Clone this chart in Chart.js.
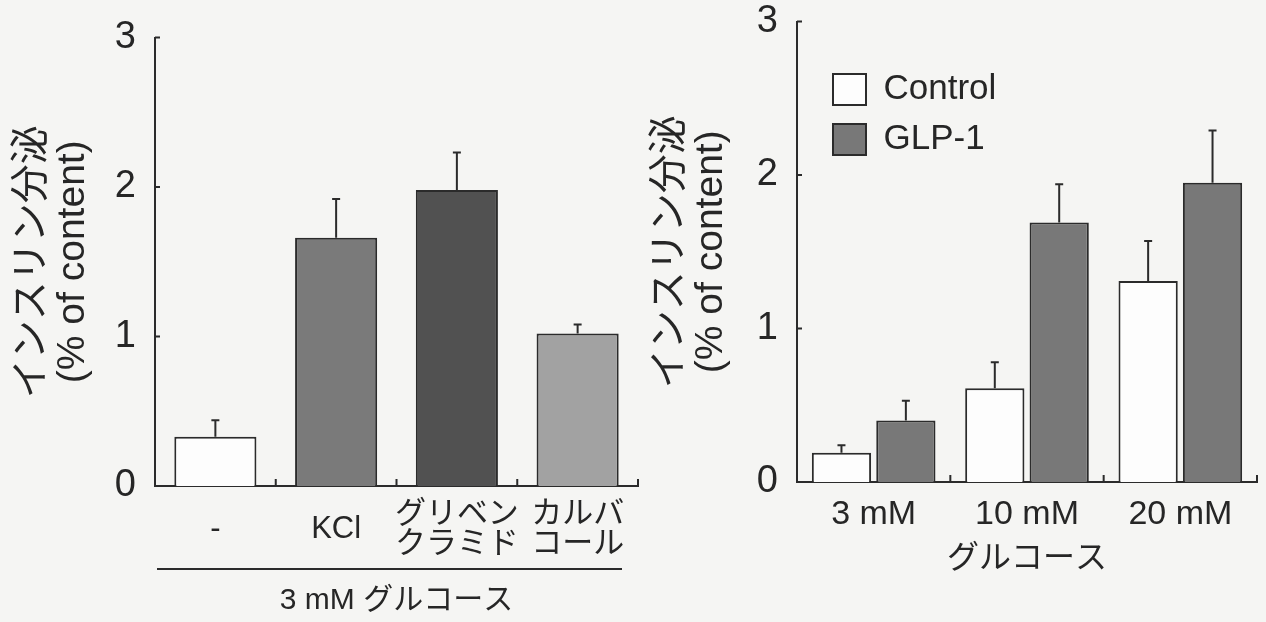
<!DOCTYPE html>
<html lang="ja">
<head>
<meta charset="UTF-8">
<title>インスリン分泌</title>
<script src="https://cdn.jsdelivr.net/npm/chart.js"></script>
<style>
  html, body { margin: 0; padding: 0; background: #f5f5f3; overflow: hidden; }
  .wrap { display: flex; width: 1266px; height: 622px; }
  canvas { display: block; }
</style>
</head>
<body>
<div class="wrap">
  <canvas id="leftChart" width="640" height="622"></canvas>
  <canvas id="rightChart" width="626" height="622"></canvas>
</div>
<script>
// left panel: stimuli at 3 mM glucose
const stimLabels = ['-', 'KCl', ['グリベン', 'クラミド'], ['カルバ', 'コール']];
const stimValues = [0.33, 1.66, 1.98, 1.02];
const stimErrors = [0.11, 0.26, 0.25, 0.06];

// right panel: glucose concentration, control vs GLP-1
const glucoseLabels = ['3 mM', '10 mM', '20 mM'];
const controlValues = [0.19, 0.61, 1.31];
const controlErrors = [0.05, 0.17, 0.26];
const glpValues = [0.40, 1.69, 1.95];
const glpErrors = [0.13, 0.25, 0.34];

const FONT = "'Liberation Sans', Arial, 'Noto Sans CJK JP', sans-serif";
const INK = '#2b2b2b';
const TEXT = '#262626';
Chart.defaults.font.family = FONT;
Chart.defaults.color = TEXT;

// error bars (upper only) + inward axis ticks + optional bracket line under labels
const marks = {
  id: 'marks',
  afterDatasetsDraw(chart, args, opts) {
    const ctx = chart.ctx;
    const x = chart.scales.x, y = chart.scales.y;
    ctx.save();
    ctx.strokeStyle = INK;
    ctx.lineWidth = 2;
    ctx.beginPath();
    chart.data.datasets.forEach((ds, di) => {
      chart.getDatasetMeta(di).data.forEach((bar, i) => {
        const top = y.getPixelForValue(ds.data[i] + ds.err[i]);
        ctx.moveTo(bar.x, bar.y);
        ctx.lineTo(bar.x, top);
        ctx.moveTo(bar.x - 4, top);
        ctx.lineTo(bar.x + 4, top);
      });
    });
    // y ticks pointing into the plot
    y.ticks.forEach(t => {
      const py = y.getPixelForValue(t.value);
      ctx.moveTo(x.left, py);
      ctx.lineTo(x.left + 5, py);
    });
    // x ticks at category boundaries, pointing up
    const n = x.ticks.length;
    for (let i = 1; i <= n; i++) {
      const px = i < n ? (x.getPixelForValue(i - 1) + x.getPixelForValue(i)) / 2 : x.right;
      ctx.moveTo(px, y.bottom);
      ctx.lineTo(px, y.bottom - 7);
    }
    if (opts.bracket) {
      const by = x.bottom - 53;
      ctx.moveTo(x.left + 2, by);
      ctx.lineTo(x.right - 16, by);
    }
    ctx.stroke();
    ctx.restore();
  }
};

// put the legend inside the plot, near the top-left
const legendShift = {
  id: 'legendShift',
  afterLayout(chart, args, opts) {
    if (chart.legend && opts.dx !== undefined) {
      chart.legend.left = chart.chartArea.left + opts.dx;
      chart.legend.top = chart.chartArea.top + opts.dy;
    }
  }
};

function yAxis(width, titlePad) {
  return {
    min: 0, max: 3,
    afterFit: s => { s.width = width; },
    grid: { display: false, drawTicks: true, tickLength: 19 },
    border: { display: true, color: INK, width: 2 },
    ticks: { stepSize: 1, padding: 0, color: TEXT, font: { size: 38, lineHeight: 1.0 } },
    title: {
      display: true,
      text: ['インスリン分泌', '(% of content)'],
      color: TEXT,
      font: { size: 39, lineHeight: 1.05 },
      padding: { top: titlePad, bottom: 0 }
    }
  };
}

new Chart(document.getElementById('leftChart'), {
  type: 'bar',
  data: {
    labels: stimLabels,
    datasets: [{
      data: stimValues,
      err: stimErrors,
      backgroundColor: ['#fdfdfd', '#7a7a7a', '#515151', '#a2a2a2'],
      borderColor: INK,
      borderWidth: 2,
      categoryPercentage: 0.68,
      barPercentage: 1.0
    }]
  },
  options: {
    responsive: false,
    animation: false,
    layout: { padding: { top: 37.5, right: 2, bottom: 0, left: 0 } },
    plugins: { legend: { display: false }, tooltip: { enabled: false }, marks: { bracket: true } },
    scales: {
      x: {
        afterFit: s => { s.height = 136; },
        grid: { display: false, drawTicks: true, tickLength: 28 },
        border: { display: true, color: INK, width: 2 },
        ticks: { autoSkip: false, padding: 0, crossAlign: 'center', maxRotation: 0, color: TEXT, font: { size: 31, lineHeight: 0.97 } },
        title: {
          display: true,
          text: '3 mM グルコース',
          color: TEXT,
          font: { size: 30, lineHeight: 1.2 },
          padding: { top: 0, bottom: 3 }
        }
      },
      y: yAxis(155, 11.5)
    }
  },
  plugins: [marks]
});

new Chart(document.getElementById('rightChart'), {
  type: 'bar',
  data: {
    labels: glucoseLabels,
    datasets: [{
      label: 'Control',
      data: controlValues,
      err: controlErrors,
      backgroundColor: '#fdfdfd',
      borderColor: INK,
      borderWidth: 2,
      categoryPercentage: 0.84,
      barPercentage: 0.92
    }, {
      label: 'GLP-1',
      data: glpValues,
      err: glpErrors,
      backgroundColor: '#787878',
      borderColor: INK,
      borderWidth: 2,
      categoryPercentage: 0.84,
      barPercentage: 0.92
    }]
  },
  options: {
    responsive: false,
    animation: false,
    layout: { padding: { top: 21.5, right: 9, bottom: 0, left: 0 } },
    plugins: {
      tooltip: { enabled: false },
      legend: {
        position: 'chartArea',
        align: 'start',
        labels: { boxWidth: 33, boxHeight: 31, padding: 15, color: TEXT, font: { size: 35 } }
      },
      legendShift: { dx: 21, dy: 35.5 },
      marks: { bracket: false }
    },
    scales: {
      x: {
        afterFit: s => { s.height = 140; },
        grid: { display: false, drawTicks: true, tickLength: 12 },
        border: { display: true, color: INK, width: 2 },
        ticks: { autoSkip: false, padding: 0, maxRotation: 0, color: TEXT, font: { size: 34 } },
        title: {
          display: true,
          text: 'グルコース',
          color: TEXT,
          font: { size: 32, lineHeight: 1.2 },
          padding: { top: 0, bottom: 44 }
        }
      },
      y: yAxis(157, 9.5)
    }
  },
  plugins: [marks, legendShift]
});
</script>
</body>
</html>
